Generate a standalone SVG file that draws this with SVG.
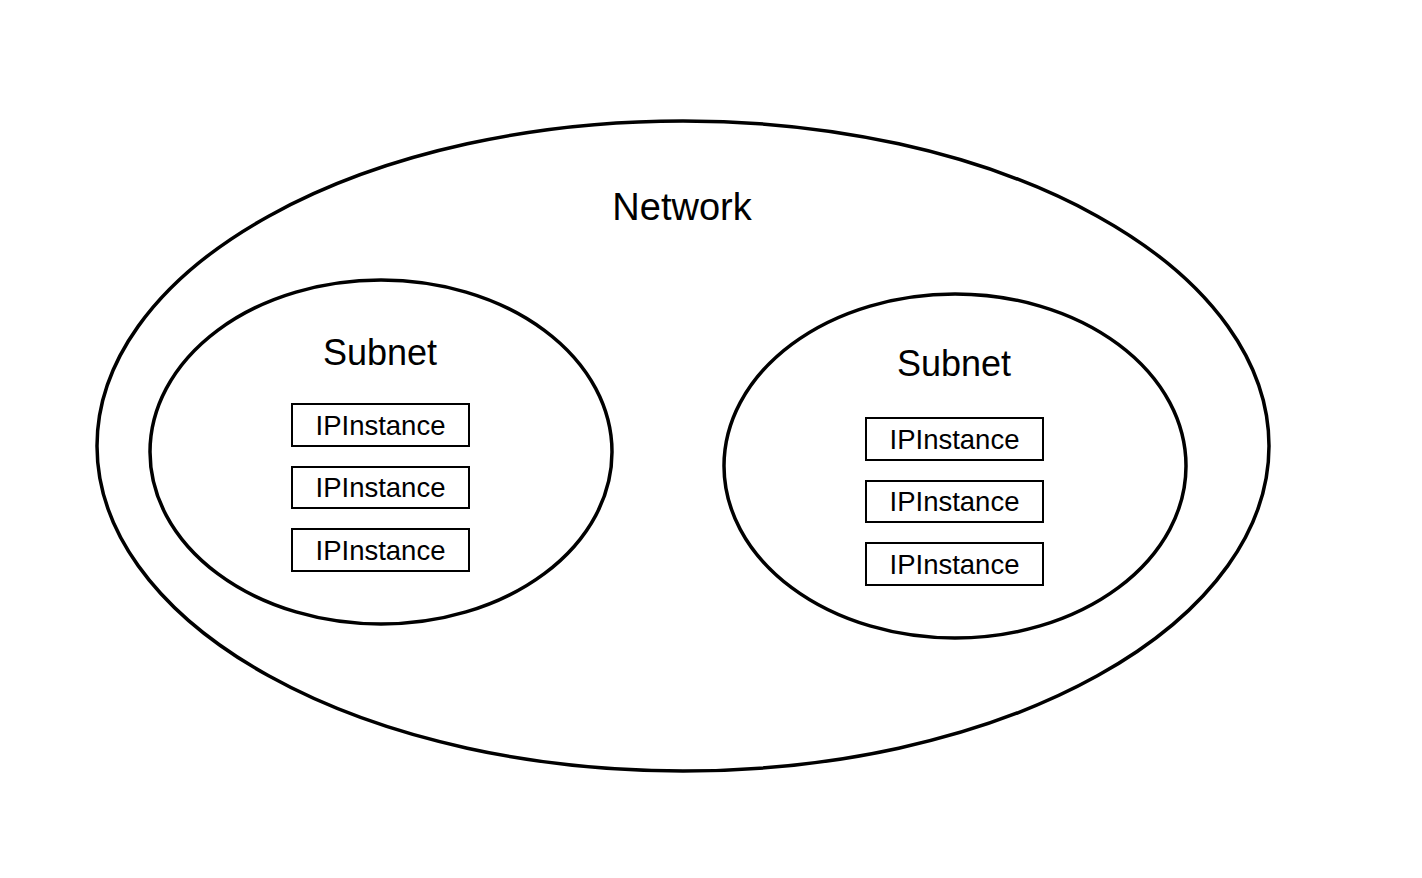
<svg xmlns="http://www.w3.org/2000/svg" width="1422" height="878" viewBox="0 0 1422 878">
<style>
.ell{fill:none;stroke:#000;stroke-width:3.5}
.box{fill:#fff;stroke:#000;stroke-width:2}
text{font-family:"Liberation Sans",Arial,sans-serif;fill:#000;text-anchor:middle}
.t1{font-size:38px}
.t2{font-size:36px}
.t3{font-size:27.5px}
</style>
<rect width="1422" height="878" fill="#fff"/>
<g id="network">
<ellipse class="ell" cx="683" cy="446" rx="586" ry="325"/>
<text class="t1" x="682" y="220">Network</text>
</g>
<g id="subnet1">
<ellipse class="ell" cx="381" cy="452" rx="231" ry="172"/>
<text class="t2" x="380" y="365">Subnet</text>
</g>
<g id="subnet2">
<ellipse class="ell" cx="955" cy="466" rx="231" ry="172"/>
<text class="t2" x="954" y="376">Subnet</text>
</g>
<g id="ip1"><rect class="box" x="292" y="404" width="177" height="42"/><text class="t3" x="380.5" y="435">IPInstance</text></g>
<g id="ip2"><rect class="box" x="292" y="467" width="177" height="41"/><text class="t3" x="380.5" y="497">IPInstance</text></g>
<g id="ip3"><rect class="box" x="292" y="529" width="177" height="42"/><text class="t3" x="380.5" y="560">IPInstance</text></g>
<g id="ip4"><rect class="box" x="866" y="418" width="177" height="42"/><text class="t3" x="954.5" y="449">IPInstance</text></g>
<g id="ip5"><rect class="box" x="866" y="481" width="177" height="41"/><text class="t3" x="954.5" y="511">IPInstance</text></g>
<g id="ip6"><rect class="box" x="866" y="543" width="177" height="42"/><text class="t3" x="954.5" y="574">IPInstance</text></g>
<g id="connectors"></g>
</svg>
